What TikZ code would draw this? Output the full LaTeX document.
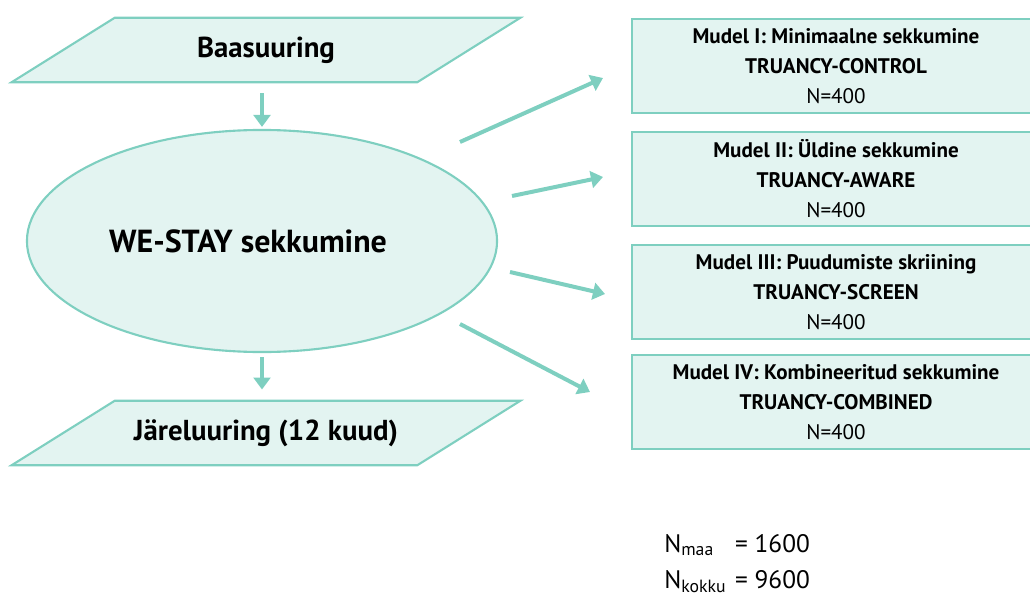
\documentclass[tikz,border=0pt]{standalone}
\usepackage{fontspec}
\setmainfont{PT Sans}
\usetikzlibrary{shapes.geometric, positioning, arrows.meta, backgrounds}
\definecolor{tealline}{HTML}{7ECFC0}
\definecolor{tealfill}{HTML}{E3F4F1}

\tikzset{
  stage/.style={minimum width=10.125cm, minimum height=1.6cm, inner sep=0pt,
    font=\bfseries\fontsize{20.5}{24}\selectfont},
  frame/.style={draw=tealline, fill=tealfill, line width=1.5pt},
  model/.style={draw=tealline, fill=tealfill, line width=0.8pt, minimum width=10.2cm,
    minimum height=2.35cm, align=center, font=\fontsize{15}{21.3}\selectfont},
  flow/.style={-{Triangle[length=0.3cm,width=0.42cm]}, draw=tealline, line width=0.1cm}
}
% slanted frame behind a stage node
\newcommand{\slantframe}[1]{%
  \draw[frame] ([xshift=1.29cm]#1.north west) -- ([xshift=1.29cm]#1.north east)
    -- ([xshift=-1.29cm]#1.south east) -- ([xshift=-1.29cm]#1.south west) -- cycle;}

\begin{document}
\begin{tikzpicture}[x=0.025cm, y=-0.025cm]
  \useasboundingbox (0,0) rectangle (1030,597);

  \node[stage] (baseline) at (266,50) {Baasuuring};
  \node[frame, ellipse, inner sep=0pt,
        minimum width=11.75cm, minimum height=5.55cm,
        font=\bfseries\fontsize{22.7}{26}\selectfont] (intervention) at (262,241) {WE-STAY sekkumine\hspace*{0.7cm}};
  \node[stage] (followup) at (266,433) {Järeluuring (12 kuud)};
  \begin{scope}[on background layer]
    \slantframe{baseline}
    \slantframe{followup}
  \end{scope}

  \node[model] (model1) at (836,66)  {\textbf{Mudel I: Minimaalne sekkumine}\\\textbf{TRUANCY-CONTROL}\\N=400};
  \node[model] (model2) at (836,179) {\textbf{Mudel II: Üldine sekkumine}\\\textbf{TRUANCY-AWARE}\\N=400};
  \node[model] (model3) at (836,292) {\textbf{Mudel III: Puudumiste skriining}\\\textbf{TRUANCY-SCREEN}\\N=400};
  \node[model] (model4) at (836,402) {\textbf{Mudel IV: Kombineeritud sekkumine}\\\textbf{TRUANCY-COMBINED}\\N=400};

  \draw[flow, shorten <=0.28cm, shorten >=0.05cm] (intervention.north |- baseline.south) -- (intervention.north);
  \draw[flow, shorten <=0.1cm, shorten >=0.28cm] (intervention.south) -- (intervention.south |- followup.north);

  \coordinate (out1) at (460,142);  \coordinate (in1) at (603,78);
  \coordinate (out2) at (512,196);  \coordinate (in2) at (603,177);
  \coordinate (out3) at (510,272);  \coordinate (in3) at (605,294);
  \coordinate (out4) at (460,324);  \coordinate (in4) at (590,392);
  \draw[flow] (out1) -- (in1);
  \draw[flow] (out2) -- (in2);
  \draw[flow] (out3) -- (in3);
  \draw[flow] (out4) -- (in4);

  \node[anchor=west, inner sep=0pt, font=\fontsize{18}{25.6}\selectfont] (totals) at (664,563)
    {\begin{tabular}{@{}l@{\hspace{0.35em}}l@{}}
      N\textsubscript{maa} & = 1600\\
      N\textsubscript{kokku} & = 9600
    \end{tabular}};
\end{tikzpicture}
\end{document}
